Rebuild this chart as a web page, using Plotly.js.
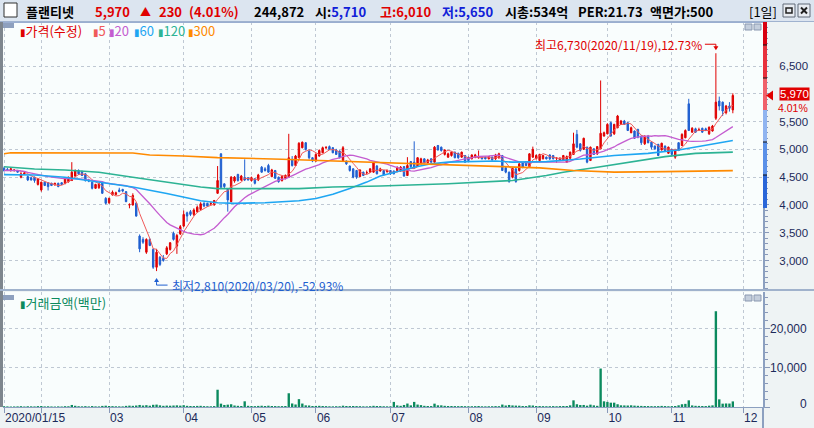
<!DOCTYPE html>
<html><head><meta charset="utf-8">
<script src="https://cdn.plot.ly/plotly-3.0.1.min.js"></script>
<style>html,body{margin:0;padding:0;background:#EEF3F4;overflow:hidden}#chart{width:814px;height:428px}</style>
</head><body><div id="chart"></div>
<script>
// ---------------- DATA ----------------
const monthDays = [
 ["2020-01",[15,16,17,20,21,22,23,28,29,30,31]],
 ["2020-02",[3,4,5,6,7,10,11,12,13,14,17,18,19,20,21,24,25,26,27,28]],
 ["2020-03",[2,3,4,5,6,9,10,11,12,13,16,17,18,19,20,23,24,25,26,27,30,31]],
 ["2020-04",[1,2,3,6,7,8,9,10,13,14,16,17,20,21,22,23,24,27,28,29]],
 ["2020-05",[4,6,7,8,11,12,13,14,15,18,19,20,21,22,25,26,27,28,29]],
 ["2020-06",[1,2,3,4,5,8,9,10,11,12,15,16,17,18,19,22,23,24,25,26,29,30]],
 ["2020-07",[1,2,3,6,7,8,9,10,13,14,15,16,17,20,21,22,23,24,27,28,29,30,31]],
 ["2020-08",[3,4,5,6,7,10,11,12,13,14,18,19,20,21,24,25,26,27,28,31]],
 ["2020-09",[1,2,3,4,7,8,9,10,11,14,15,16,17,18,21,22,23,24,25,28,29]],
 ["2020-10",[5,6,7,8,12,13,14,15,16,19,20,21,22,23,26,27,28,29,30]],
 ["2020-11",[2,3,4,5,6,9,10,11,12,13,16,17,18,19,20,23,24,25,26]]
];
const futureDays = ["2020-11-27","2020-11-30","2020-12-01"];

const open = [4660,4640,4630,4625,4620,4500,4560,4510,4490,4500,
 4370,4270,4410,4400,4390,4360,4390,4400,4390,4420,
 4440,4520,4620,4600,4560,4450,4410,4300,4310,4410,
 4120,4040,4180,4190,4270,4280,4240,4000,4000,4030,
 3440,3380,3150,3380,3200,2880,3060,3040,3120,3200,
 3490,3260,3480,3620,3860,3880,3830,3880,3920,4030,
 4030,4020,4000,4210,4920,4380,4290,4060,4430,4550,
 4450,4490,4490,4440,4470,4450,4680,4650,4710,4510,
 4620,4500,4440,4480,4500,4820,4710,4850,5030,5120,
 4970,4850,4790,4880,4940,5030,5050,5030,4990,4970,
 4800,4790,4700,4650,4620,4510,4590,4580,4590,4590,
 4700,4610,4620,4600,4620,4610,4620,4610,4690,4530,
 4780,4770,4700,4740,4830,4760,4830,4770,5070,5040,
 4910,4860,4890,4950,4930,4860,4890,4860,4830,4860,
 4860,4860,4860,4830,4860,4830,4850,4890,4670,4590,
 4500,4650,4620,4760,4780,4690,4860,4830,4800,4830,
 4860,4900,4890,4840,4800,4800,4770,4840,4910,5270,
 5100,5000,5040,4800,5010,4920,5010,5240,5280,5480,
 5280,5390,5450,5510,5480,5300,5330,5360,5240,5100,
 5240,5130,5060,5090,4990,5060,4930,5000,4860,5120,
 5070,5210,5820,5310,5370,5350,5380,5370,5280,5330,
 5560,5870,5850,5660,5780,5710];
const high = [4690,4670,4660,4640,4630,4590,4590,4530,4510,4510,
 4480,4420,4420,4410,4400,4400,4400,4410,4480,4510,
 4770,4640,4640,4620,4570,4470,4420,4380,4400,4420,
 4140,4130,4260,4240,4310,4290,4250,4030,4210,4050,
 3470,3420,3400,3400,3220,3210,3080,3100,3260,3330,
 3520,3480,3640,3900,3880,3910,3940,3990,4050,4050,
 4040,4060,4090,4700,4930,4390,4300,4520,4520,4560,
 4540,4820,4500,4510,4480,4560,4700,4680,4740,4650,
 4630,4510,4530,4550,5280,4880,4900,5130,5140,5130,
 5000,4860,4930,5000,5050,5060,5070,5040,5010,4980,
 5060,4800,4710,4660,4630,4640,4600,4620,4660,4770,
 4720,4670,4630,4640,4630,4620,4690,4700,4700,4860,
 4790,5145,4860,4850,4840,4830,4840,5060,5080,5050,
 5000,4940,4960,4960,4940,4960,4900,4870,4910,4920,
 4980,4870,4870,4880,4870,4920,4940,4900,4680,4600,
 4670,4660,4750,4770,4790,4930,5050,4910,4920,4900,
 4870,4910,4900,4860,4860,4900,4890,4960,5300,5350,
 5110,5210,5050,5050,5020,5060,6240,5320,5470,5500,
 5460,5620,5530,5530,5490,5410,5340,5370,5250,5250,
 5260,5140,5070,5100,5120,5070,5050,5010,5000,5130,
 5290,5360,5910,5400,5390,5390,5390,5390,5410,5440,
 6730,5950,5860,5800,5850,6010];
const low = [4600,4610,4600,4600,4580,4480,4540,4430,4440,4400,
 4350,4240,4340,4260,4340,4350,4320,4360,4370,4400,
 4430,4500,4540,4520,4420,4410,4280,4290,4290,4200,
 4010,4020,4170,4170,4230,4230,4050,3940,3990,3790,
 3150,3300,3120,3260,2850,2810,2900,2980,3100,3180,
 3360,3120,3460,3600,3700,3800,3800,3860,3900,3960,
 3970,3990,3990,4200,4300,4300,3880,4050,4400,4420,
 4430,4430,4440,4420,4370,4430,4580,4600,4580,4500,
 4470,4400,4420,4460,4490,4690,4700,4840,5020,4980,
 4820,4770,4780,4870,4930,5000,4990,4930,4900,4840,
 4790,4720,4600,4480,4470,4500,4520,4550,4580,4580,
 4550,4600,4530,4580,4540,4550,4600,4600,4510,4520,
 4660,4650,4690,4730,4750,4750,4760,4760,4980,4960,
 4890,4850,4870,4840,4830,4850,4760,4780,4820,4840,
 4830,4820,4820,4820,4800,4810,4830,4610,4570,4400,
 4480,4400,4600,4660,4700,4680,4850,4820,4790,4820,
 4820,4810,4820,4760,4790,4790,4760,4830,4900,5020,
 4960,4990,4750,4790,4900,4900,5000,5230,5270,5230,
 5260,5380,5440,5440,5330,5290,5190,5200,5080,5080,
 5110,5000,4990,4880,4980,4970,4920,4890,4830,4970,
 5060,5200,5330,5300,5300,5330,5300,5330,5260,5320,
 5530,5700,5600,5630,5680,5650];
const close = [4620,4620,4650,4628,4590,4560,4575,4450,4450,4440,
 4470,4410,4350,4330,4350,4390,4330,4370,4470,4500,
 4590,4610,4560,4530,4440,4430,4300,4370,4380,4210,
 4030,4120,4230,4220,4240,4250,4060,4005,4170,3800,
 3210,3330,3380,3270,2880,3150,2930,3000,3230,3320,
 3380,3450,3610,3830,3800,3830,3910,3960,4020,3980,
 3980,4025,4080,4440,4320,4330,4090,4500,4500,4440,
 4520,4450,4450,4490,4390,4540,4590,4620,4590,4630,
 4480,4420,4510,4530,4850,4710,4880,5110,5130,5000,
 4850,4790,4910,4980,5030,5035,5000,4940,4910,4850,
 5030,4740,4620,4500,4500,4630,4530,4582,4650,4760,
 4560,4650,4540,4620,4560,4560,4680,4680,4520,4710,
 4690,4670,4850,4830,4760,4810,4770,5040,4990,4980,
 4990,4920,4950,4850,4850,4950,4770,4800,4900,4900,
 4862,4830,4830,4870,4810,4900,4920,4620,4590,4420,
 4660,4420,4740,4680,4710,4920,5000,4890,4910,4890,
 4830,4830,4830,4842,4840,4890,4870,4950,5100,5040,
 4980,5200,4770,5040,4910,5050,5290,5300,5450,5240,
 5450,5600,5510,5450,5340,5390,5200,5220,5120,5240,
 5120,5040,5010,4890,5110,4980,5040,4910,4980,4980,
 5270,5340,5340,5380,5310,5352,5310,5340,5400,5420,
 5850,5780,5690,5780,5740,5970];
// 거래금액 (백만원)
const tradeValue = [180,150,120,140,160,210,130,190,170,150,
 230,260,150,180,140,120,160,130,210,190,
 520,310,200,170,220,150,240,160,150,280,
 330,260,220,180,170,160,290,350,300,380,
 520,380,460,330,560,610,420,300,360,330,
 380,420,350,460,300,250,240,280,300,220,
 200,180,230,4400,850,520,600,700,380,300,
 260,1450,300,250,220,280,320,260,330,250,
 240,210,230,260,3500,900,640,2000,880,420,
 380,260,280,300,250,220,180,170,200,190,
 330,250,240,260,230,210,170,160,210,300,
 260,230,190,170,160,1300,400,300,520,880,
 420,1300,620,480,300,260,240,850,430,420,
 300,260,250,230,220,240,210,190,200,220,
 250,180,170,190,200,230,210,620,380,520,
 400,360,330,260,240,420,380,260,240,220,
 200,210,230,190,240,260,250,420,1700,700,
 500,520,340,600,420,300,9800,1450,1300,1100,
 1100,700,430,400,380,430,350,300,280,260,
 240,220,210,230,280,240,200,220,260,430,
 700,800,1700,400,300,280,260,240,330,420,
 24400,1950,850,900,880,1430];

// Long moving averages (trading-day index -> value)
const ma60Idx  = [0,9,18,28,38,48,53,58,63,68,77,87,92,97,102,107,111,121,126,131,145,150,160,170,180,190,199,209,215];
const ma60Val  = [4546,4540,4500,4411,4323,4205,4135,4076,4040,4029,4040,4076,4117,4194,4294,4411,4520,4680,4740,4770,4790,4770,4780,4828,4890,4929,4989,5100,5160];
const ma120Idx = [0,9,18,28,38,48,58,63,77,87,97,111,131,150,160,165,175,185,195,204,215];
const ma120Val = [4688,4646,4630,4588,4500,4411,4323,4294,4290,4294,4323,4340,4382,4441,4530,4590,4679,4768,4870,4929,4950];
const ma300Idx = [0,2,38,43,53,63,82,97,111,133,158,168,180,195,205,215];
const ma300Val = [4923,4940,4935,4900,4882,4852,4823,4793,4765,4709,4667,4620,4590,4600,4610,4617];
const maPeriods = [5,20,60,120,300];

const monthTickDates = ["2020-01-15","2020-02-03","2020-03-02","2020-04-01","2020-05-04","2020-06-01","2020-07-01","2020-08-03","2020-09-01","2020-10-05","2020-11-02","2020-12-01"];
const monthTickText  = ["2020/01/15","","03","04","05","06","07","08","09","10","11","12"];
const priceTicks = [3000,3500,4000,4500,5000,5500,6000,6500];
const priceTickText = ["3,000","3,500","4,000","4,500","5,000","5,500","","6,500"];
const volTicks = [0,10000,20000];

const stockName = "플랜티넷";
const lastVolumeShares = 244872;
const marketCap = "534억";
const perValue = "21.73";
const faceValue = "500";

// ---------------- BUILD ----------------
const dates = monthDays.flatMap(([m,ds]) => ds.map(d => m + "-" + String(d).padStart(2,"0")));
const fmt = n => Math.round(n).toLocaleString("en-US");
const sma = (arr, n) => arr.map((_, i) => { const s = arr.slice(Math.max(0, i-n+1), i+1); return s.reduce((a,b)=>a+b,0)/s.length; });

const RED = "#E00000", BLUE = "#1F5FD0", NAVY = "#1C2A5A";
const FONT = '"Noto Sans CJK KR", "Noto Sans", "DejaVu Sans", sans-serif';
const NUMFONT = '"Liberation Sans", Arial, sans-serif';
const maColors = ["#F05A5A","#C45CD0","#1EA6F2","#2DB394","#FF8A00"];

const W=814,H=428,L=3,R=51,T=22,B=21, PW=W-L-R, PH=H-T-B;
const px = x => (x-L)/PW, py = y => (H-B-y)/PH;

const n = close.length, last = close[n-1], prev = close[n-2];
const chg = last - prev, pct = (chg/prev*100).toFixed(2);
let imax = 0, imin = 0;
high.forEach((v,i)=>{ if (v > high[imax]) imax = i; });
low.forEach((v,i)=>{ if (v < low[imin]) imin = i; });
const hiV = high[imax], loV = low[imin];

const traces = [
 {type:"candlestick", x:dates, open, high, low, close, xaxis:"x", yaxis:"y", hoverinfo:"skip",
  increasing:{line:{color:RED,width:1}, fillcolor:RED},
  decreasing:{line:{color:BLUE,width:1}, fillcolor:BLUE}, whiskerwidth:0},
 {type:"scatter", mode:"lines", x:dates, y:sma(close,5), line:{color:maColors[0],width:1}, hoverinfo:"skip"},
 {type:"scatter", mode:"lines", x:dates, y:sma(close,20), line:{color:maColors[1],width:1.3}, hoverinfo:"skip"},
 {type:"scatter", mode:"lines", x:ma60Idx.map(i=>dates[i]), y:ma60Val, line:{color:maColors[2],width:1.6}, hoverinfo:"skip"},
 {type:"scatter", mode:"lines", x:ma120Idx.map(i=>dates[i]), y:ma120Val, line:{color:maColors[3],width:1.6}, hoverinfo:"skip"},
 {type:"scatter", mode:"lines", x:ma300Idx.map(i=>dates[i]), y:ma300Val, line:{color:maColors[4],width:1.6}, hoverinfo:"skip"},
 {type:"bar", x:dates, y:tradeValue, xaxis:"x", yaxis:"y2", marker:{color:"#0B8A5E", line:{width:0}}, hoverinfo:"skip"}
];

const rectPx = (x0,y0,x1,y1,fill,lc,lw) => ({type:"rect",xref:"paper",yref:"paper",x0:px(x0),x1:px(x1),y0:py(y1),y1:py(y0),fillcolor:fill,line:{color:lc||fill,width:lw||0},layer:"above"});
const linePx = (x0,y0,x1,y1,color,w) => ({type:"line",xref:"paper",yref:"paper",x0:px(x0),x1:px(x1),y0:py(y0),y1:py(y1),line:{color,width:w||1},layer:"above"});

const shapes = [
 rectPx(0,0,814,21,"#DCE5F0"),
 linePx(0,21.5,814,21.5,"#9FB2CF",1),
 rectPx(4,3,17,17,"#FFFFFF","#303030",1),
 rectPx(783,4,795,17,"#E8ECF2","#606A78",1),
 rectPx(786,8,792,13,"rgba(0,0,0,0)","#202020",1.5),
 rectPx(798,4,810,17,"#E8ECF2","#606A78",1),
 linePx(801,7.5,807,13.5,"#202020",2), linePx(807,7.5,801,13.5,"#202020",2),
 rectPx(0,22,3,407,"#7E868E"),
 linePx(3,22.5,763,22.5,"#9AAED0",1),
 rectPx(0,289,814,291,"#A0B2CC"),
 linePx(763,407,763,428,"#8CA0C0",2),
 rectPx(3,23,14,28,"#8EA0BE"), rectPx(3,295,14,300,"#8EA0BE"),
 rectPx(745,24,752,30,"#C4CEDC","#8A98B0",1), rectPx(754,24,761,30,"#C4CEDC","#8A98B0",1),
 rectPx(745,295,752,301,"#C4CEDC","#8A98B0",1), rectPx(754,295,761,301,"#C4CEDC","#8A98B0",1),
 // colour bar at right edge of price panel
 rectPx(763,22,767,45,"#D80010"), rectPx(763,45,767,78,"#E8303C"), rectPx(763,78,767,110,"#F0606A"),
 rectPx(763,110,767,142,"#90B4F0"), rectPx(763,142,767,175,"#5A90E8"), rectPx(763,175,767,208,"#2A66D8"),
 linePx(763,45,767,45,"#111",1), linePx(763,78,767,78,"#111",1), linePx(763,142,767,142,"#111",1), linePx(763,175,767,175,"#111",1),
 // current price marker
 {type:"path", xref:"paper", yref:"y", xsizemode:"pixel", ysizemode:"pixel", xanchor:px(763), yanchor:last,
  path:"M 3 0 L 10 5 L 10 -5 Z", fillcolor:RED, line:{width:0}, layer:"above"},
 // max connector
 {type:"path", xref:"x", yref:"y", xsizemode:"pixel", ysizemode:"pixel", xanchor:imax, yanchor:hiV,
  path:"M -11 9 L 0 9 L 0 6", line:{color:RED,width:1}, layer:"above"},
 {type:"path", xref:"x", yref:"y", xsizemode:"pixel", ysizemode:"pixel", xanchor:imax, yanchor:hiV,
  path:"M -2.5 7 L 2.5 7 L 0 3 Z", fillcolor:RED, line:{width:0}, layer:"above"},
 // min connector
 {type:"path", xref:"x", yref:"y", xsizemode:"pixel", ysizemode:"pixel", xanchor:imin, yanchor:loV,
  path:"M 11 -14 L 0 -14 L 0 -11", line:{color:BLUE,width:1}, layer:"above"},
 {type:"path", xref:"x", yref:"y", xsizemode:"pixel", ysizemode:"pixel", xanchor:imin, yanchor:loV,
  path:"M -2.5 -11 L 2.5 -11 L 0 -7 Z", fillcolor:BLUE, line:{width:0}, layer:"above"}
];

const txt = (x,y,text,color,size,extra) => Object.assign({xref:"paper",yref:"paper",x:px(x),y:py(y),text,showarrow:false,xanchor:"left",yanchor:"middle",font:{family:FONT,size:size||13,color}}, extra||{});
const dateTxt = i => dates[i].replace(/-/g,"/");

const annotations = [
 txt(24,11,`<b>${stockName}</b>`,"#000",13),
 txt(93,11,`<b>${fmt(last)}</b>`,RED,13),
 txt(138,11,`<b>▲</b>`,RED,11),
 txt(157,11,`<b>${fmt(chg)}</b>`,RED,13),
 txt(187,11,`<b>(${pct}%)</b>`,RED,13),
 txt(252,11,`<b>${fmt(lastVolumeShares)}</b>`,"#000",13),
 txt(313,11,`<b>시:<span style="color:#1020D8">${fmt(open[n-1])}</span></b>`,"#000",13),
 txt(378,11,`<b>고:${fmt(high[n-1])}</b>`,RED,13),
 txt(440,11,`<b>저:${fmt(low[n-1])}</b>`,"#1020D8",13),
 txt(503,11,`<b>시총:${marketCap}</b>`,"#000",13),
 txt(576,11,`<b>PER:${perValue}</b>`,"#000",13),
 txt(648,11,`<b>액면가:${faceValue}</b>`,"#000",13),
 txt(747,11,`[1일]`,"#000",13),
 // legend
 txt(18,30,`<span style="font-size:10px">▮</span>가격(수정)`,RED,13),
 ...maPeriods.map((p,k)=>txt([91,107,132,156,186][k],30,`<span style="font-size:10px">▮</span>${p}`,maColors[k],13)),
 txt(18,302,`<span style="font-size:10px">▮</span>거래금액(백만)`,"#0B8A5E",13),
 // max / min labels
 {x:imax, y:hiV, xref:"x", yref:"y", text:`최고${fmt(hiV)}(${dateTxt(imax)}),${((hiV/last-1)*100).toFixed(2)}%`, showarrow:false,
  xanchor:"right", yanchor:"middle", xshift:-12, yshift:9, font:{family:FONT,size:12,color:RED}},
 {x:imin, y:loV, xref:"x", yref:"y", text:`최저${fmt(loV)}(${dateTxt(imin)}),${((loV/last-1)*100).toFixed(2)}%`, showarrow:false,
  xanchor:"left", yanchor:"middle", xshift:13, yshift:-14, font:{family:FONT,size:12,color:BLUE}},
 // current price box
 {xref:"paper", x:px(810), xanchor:"right", y:last, yref:"y", yshift:1, text:fmt(last), showarrow:false, bgcolor:RED, borderpad:0,
  font:{family:NUMFONT,size:11.5,color:"#FFFFFF"}},
 {xref:"paper", x:px(809), xanchor:"right", y:last, yref:"y", yshift:-13, text:`${pct}%`, showarrow:false, borderpad:0,
  font:{family:NUMFONT,size:10.5,color:RED}},
 // volume axis labels (right aligned)
 ...volTicks.map(v=>({xref:"paper", x:px(809), xanchor:"right", y:v, yref:"y2", yshift: v===0?3:0, text:fmt(v), showarrow:false,
  font:{family:NUMFONT,size:12,color:NAVY}}))
];

const grid = {showgrid:true, gridcolor:"#BFC8D3", griddash:"dot", gridwidth:1, zeroline:false, fixedrange:true};
const layout = {
 width:W, height:H, margin:{l:L,r:R,t:T,b:B,pad:0},
 paper_bgcolor:"#EEF3F4", plot_bgcolor:"#F9FDFD",
 showlegend:false, hovermode:false, dragmode:false, bargap:0.3, boxgap:0.4,
 font:{family:FONT,size:12,color:NAVY},
 xaxis:Object.assign({type:"category", categoryorder:"array", categoryarray:dates.concat(futureDays),
  range:[-0.3,223.9], anchor:"y2", rangeslider:{visible:false},
  tickmode:"array", tickvals:monthTickDates, ticktext:monthTickText,
  ticks:"outside", ticklen:5, tickcolor:"#8898B8", ticklabelposition:"outside right",
  showline:true, linecolor:"#8CA0C0", linewidth:1, tickfont:{family:NUMFONT,size:12,color:NAVY}}, grid),
 yaxis:Object.assign({domain:[py(289),1], range:[2488,7292], side:"right", anchor:"x",
  tickmode:"array", tickvals:priceTicks, ticktext:priceTickText, ticks:"outside", ticklen:4, tickcolor:"#8898B8",
  ticklabelstandoff:8, tickfont:{family:NUMFONT,size:11.5,color:NAVY},
  showline:true, linecolor:"#8CA0C0", linewidth:2,
  minor:{tickmode:"linear", dtick:100, tick0:0, ticks:"outside", ticklen:3, tickcolor:"#8898B8", showgrid:false}}, grid),
 yaxis2:Object.assign({domain:[0,py(292)], range:[0,29300], side:"right", anchor:"x",
  tickmode:"array", tickvals:volTicks, showticklabels:false, ticks:"outside", ticklen:5, tickcolor:"#8898B8",
  showline:true, linecolor:"#8CA0C0", linewidth:2,
  minor:{tickmode:"linear", dtick:2000, tick0:0, ticks:"outside", ticklen:3, tickcolor:"#8898B8", showgrid:false}}, grid),
 shapes, annotations
};
Plotly.newPlot("chart", traces, layout, {staticPlot:true, displayModeBar:false});
</script></body></html>
